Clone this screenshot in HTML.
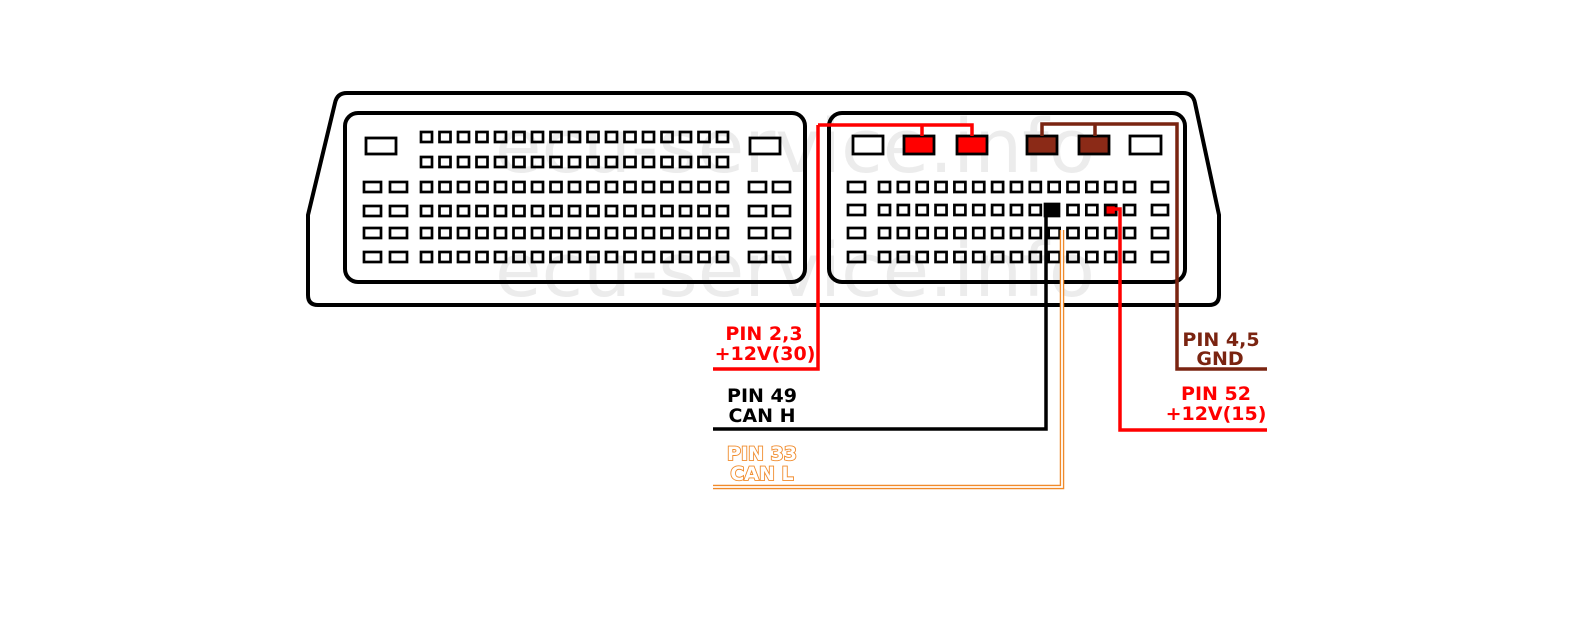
<!DOCTYPE html>
<html><head><style>html,body{margin:0;padding:0;background:#fff}svg{display:block}</style></head>
<body>
<svg width="1586" height="627" viewBox="0 0 1586 627" xmlns="http://www.w3.org/2000/svg" font-family="Liberation Sans, sans-serif">
<rect width="1586" height="627" fill="#fff"/>
<g fill="#ececec" font-size="74" font-family="DejaVu Sans, sans-serif">
<text x="495" y="172" textLength="600" lengthAdjust="spacingAndGlyphs">ecu-service.info</text>
<text x="495" y="296" textLength="600" lengthAdjust="spacingAndGlyphs">ecu-service.info</text>
</g>
<path d="M347 93 H1183 Q1193 93 1195 103 L1219 215 V295 Q1219 305 1209 305 H318 Q308 305 308 295 V215 L335 103 Q337 93 347 93 Z" fill="none" stroke="#000" stroke-width="4"/>
<rect x="345" y="113" width="460" height="169" rx="13" fill="none" stroke="#000" stroke-width="4"/>
<rect x="829" y="113" width="356" height="169" rx="13" fill="none" stroke="#000" stroke-width="4"/>
<g fill="#fff" stroke="#000" stroke-width="2.8">
<rect x="366" y="138" width="30" height="16"/><rect x="750" y="138" width="30" height="16"/>
<rect x="853" y="136" width="30" height="18"/>
<rect x="904" y="136" width="30" height="18" fill="#f00"/>
<rect x="957" y="136" width="30" height="18" fill="#f00"/>
<rect x="1027" y="136" width="30" height="18" fill="#8b2a17"/>
<rect x="1079" y="136" width="30" height="18" fill="#8b2a17"/>
<rect x="1130" y="136" width="31" height="18"/>
</g>
<g id="L" fill="none" stroke="#000" stroke-width="2.7"></g>
<script>
var ns="http://www.w3.org/2000/svg",g=document.getElementById("L");
function r(x,y,w,h,f){var e=document.createElementNS(ns,"rect");e.setAttribute("x",x);e.setAttribute("y",y);e.setAttribute("width",w);e.setAttribute("height",h);if(f)e.setAttribute("fill",f);g.appendChild(e);}
var ly=[137,162,187,211,233,257];
for(var i=0;i<6;i++){for(var c=0;c<17;c++)r(421+c*18.5,ly[i]-5,11,10);
 if(i>=2){r(364,ly[i]-5,17,10);r(390,ly[i]-5,17,10);r(749,ly[i]-5,17,10);r(773,ly[i]-5,17,10);}}
var ry=[187,210,233,257];
for(var i=0;i<4;i++){r(848,ry[i]-5,17,10);r(1152,ry[i]-5,16,10);
 for(var c=0;c<14;c++){var f=null;
 if(i==1&&c==9){r(1045,ry[i]-6,14,12,"#000");continue;}
 if(i==1&&c==12)f="#f00";
 r(879+c*18.85,ry[i]-5,11,10,f);}}
</script>
<g fill="none" stroke-linejoin="miter">
<path d="M922 136 V125 H972 V136 M818 125 H922 M818 125 V369 H713" stroke="#f00" stroke-width="3.5"/>
<path d="M1042 136 V124 H1095 V136 M1095 124 H1177 V369 H1267" stroke="#7a2411" stroke-width="3.5"/>
<path d="M1046 210 V429 H713" stroke="#000" stroke-width="3.5"/>
<path d="M1112 209 H1120 V430 H1267" stroke="#f00" stroke-width="3.5"/>
<path d="M1062 230 V487 H713" stroke="#f08a2a" stroke-width="4.5"/>
<path d="M1062 230 V487 H713" stroke="#fff" stroke-width="1.8"/>
</g>
<g font-weight="bold" font-size="19" text-anchor="middle" font-family="DejaVu Sans, sans-serif">
<text x="764" y="340" fill="#f00">PIN 2,3</text>
<text x="765" y="360" fill="#f00">+12V(30)</text>
<text x="762" y="402" fill="#000">PIN 49</text>
<text x="762" y="422" fill="#000">CAN H</text>
<text x="762" y="460" fill="#fff" stroke="#f08a2a" stroke-width="1.8" paint-order="stroke">PIN 33</text>
<text x="762" y="480" fill="#fff" stroke="#f08a2a" stroke-width="1.8" paint-order="stroke">CAN L</text>
<text x="1221" y="346" fill="#7a2411">PIN 4,5</text>
<text x="1220" y="365" fill="#7a2411">GND</text>
<text x="1216" y="400" fill="#f00">PIN 52</text>
<text x="1216" y="420" fill="#f00">+12V(15)</text>
</g>
</svg>
</body></html>
